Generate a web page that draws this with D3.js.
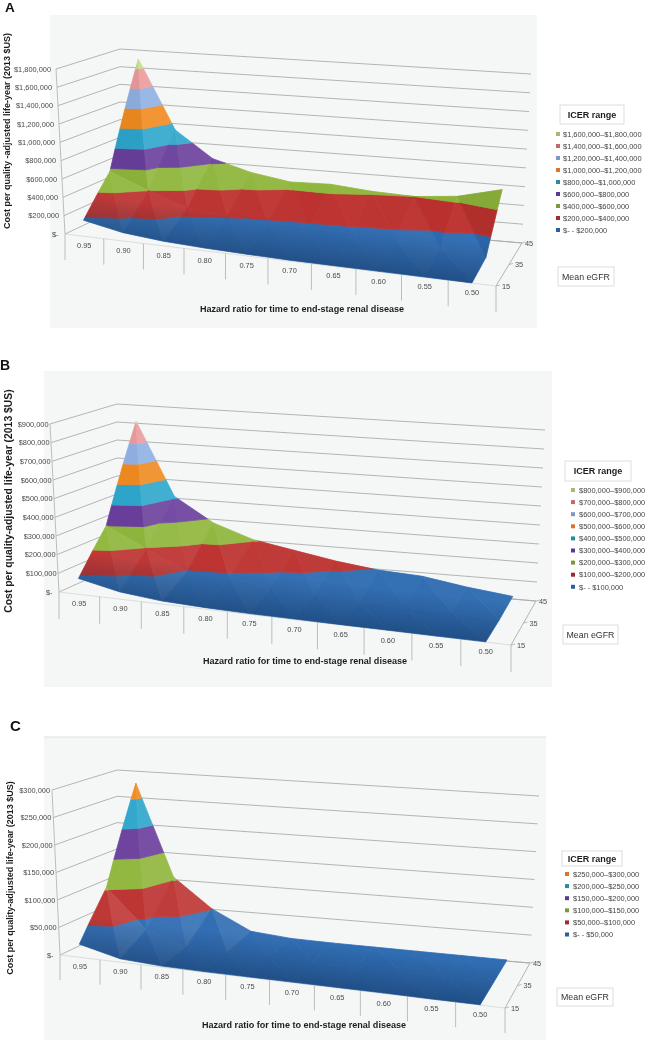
<!DOCTYPE html>
<html><head><meta charset="utf-8">
<script src="https://cdn.jsdelivr.net/npm/d3@7"></script>
<style>
html,body{margin:0;padding:0;background:#fff}
svg{display:block;filter:blur(.3px)}
text{font-family:"Liberation Sans",Arial,sans-serif}
</style></head><body>
<svg id="chart" width="645" height="1040"></svg>
<script>
// ---- data ----
const hazardRatios = ["0.95","0.90","0.85","0.80","0.75","0.70","0.65","0.60","0.55","0.50"];
const eGFRLevels = ["15","35","45"];

const ticksA = [0,200000,400000,600000,800000,1000000,1200000,1400000,1600000,1800000];
const valuesA15 = [175000,90000,50000,30000,18000,10000,8000,6000,4000,2000];
const valuesA35 = [570000,400000,250000,210000,185000,170000,160000,145000,100000,50000];
const valuesA45 = [1700000,930000,640000,520000,450000,460000,420000,400000,440000,550000];
const legendA = ["$1,600,000–$1,800,000","$1,400,000–$1,600,000","$1,200,000–$1,400,000","$1,000,000–$1,200,000","$800,000–$1,000,000","$600,000–$800,000","$400,000–$600,000","$200,000–$400,000","$- - $200,000"];

const ticksB = [0,100000,200000,300000,400000,500000,600000,700000,800000,900000];
const valuesB15 = [85000,38000,16000,8000,4000,3000,2000,2000,1000,1000];
const valuesB35 = [300000,195000,95000,84000,55000,38000,25000,20000,15000,3000];
const valuesB45 = [810000,410000,280000,205000,165000,125000,95000,81000,43000,14000];
const legendB = ["$800,000–$900,000","$700,000–$800,000","$600,000–$700,000","$500,000–$600,000","$400,000–$500,000","$300,000–$400,000","$200,000–$300,000","$100,000–$200,000","$- - $100,000"];

const ticksC = [0,50000,100000,150000,200000,250000,300000];
const valuesC15 = [24000,6000,2000,1000,1000,1000,1000,1000,500,500];
const valuesC35 = [104000,33000,9000,7000,5000,4000,3000,3000,2000,1000];
const valuesC45 = [277000,105000,51000,15000,8000,6000,5000,4000,3000,2000];
const legendC = ["$250,000–$300,000","$200,000–$250,000","$150,000–$200,000","$100,000–$150,000","$50,000–$100,000","$- - $50,000"];

// band colours, lowest band first
const surfaceColors = ["#2f6cb2","#bc312f","#8fb63c","#6a3f9c","#2ea6cb","#f08a20","#8fb0e2","#ea9a9c","#c6dc8c"];
const legendColors  = ["#2c5f9e","#9e2b2d","#7a9a3c","#5a3a8c","#2b8a9e","#d9752c","#7f96c4","#c2686c","#a6b87c"];

// ---- panel layout (not data) ----
const panels = [
 {letter:"A",lx:5,ly:11.5,lfs:13.5,bg:[50,15,487,313],labOff:5,
  FL:[65,234],FLt:[56,69],BL:[120,208],BLt:[120,49],BR:[522,243],BRt:[531,74],FR:[496,286],FRv:[8,-176],
  tickH:26,ticks:ticksA,rows:[valuesA15,valuesA35,valuesA45],legend:legendA,bands:9,
  yTitle:"Cost per quality -adjusted life-year (2013 $US)",ytx:10,yty:131,yfs:9,
  xty:312,xtx:302,
  lg:{box:[560,105,64,19],mx:556,my:134,step:12,tx:563},mean:[558,267,56,19]},
 {letter:"B",lx:0,ly:370,lfs:14,bg:[44,371,508,316],labOff:1.5,
  FL:[59,592],FLt:[50,424],BL:[117,566],BLt:[117,404],BR:[536,601],BRt:[545,430],FR:[511,645],FRv:[8,-180],
  tickH:27,ticks:ticksB,rows:[valuesB15,valuesB35,valuesB45],legend:legendB,bands:9,
  yTitle:"Cost per quality-adjusted life-year (2013 $US)",ytx:12,yty:501,yfs:10.4,
  xty:664,xtx:305,
  lg:{box:[565,461,66,20],mx:571,my:490,step:12.1,tx:579},mean:[563,625,55,19]},
 {letter:"C",lx:10,ly:731,lfs:15,bg:[44,737,502,303],topLine:true,labOff:2,
  FL:[60,955],FLt:[52,790],BL:[117,928],BLt:[117,770],BR:[530,963],BRt:[539,796],FR:[505,1008],FRv:[8,-175],
  tickH:25,ticks:ticksC,rows:[valuesC15,valuesC35,valuesC45],legend:legendC,bands:6,
  yTitle:"Cost per quality-adjusted life-year (2013 $US)",ytx:13,yty:878,yfs:9,
  xty:1028,xtx:304,
  lg:{box:[562,851,60,15],mx:565,my:874,step:12.1,tx:573},mean:[557,988,56,18]}
];

const svg = d3.select("#chart");
const defs = svg.append("defs");
const lerp = (a,b,t)=>[a[0]+(b[0]-a[0])*t,a[1]+(b[1]-a[1])*t];
const pathOf = pts => "M"+pts.map(p=>p[0].toFixed(2)+","+p[1].toFixed(2)).join("L")+"Z";

// clip a polygon (vertices {u,d,v}) to lo <= v <= hi
function clipBand(poly,lo,hi){
  const clip=(pts,keep,lim)=>{
    const out=[];
    pts.forEach((a,i)=>{
      const b=pts[(i+1)%pts.length];
      const ka=keep(a.v),kb=keep(b.v);
      if(ka) out.push(a);
      if(ka!==kb){
        const t=(lim-a.v)/(b.v-a.v);
        out.push({u:a.u+(b.u-a.u)*t,d:a.d+(b.d-a.d)*t,v:lim});
      }
    });
    return out;
  };
  let r=clip(poly,v=>v>=lo,lo);
  if(r.length) r=clip(r,v=>v<=hi,hi);
  return r;
}

panels.forEach((P,pi)=>{
  const g = svg.append("g");
  const maxV = d3.max(P.ticks);
  // scales
  const xBand = d3.scaleBand().domain(hazardRatios).range([0,1]);
  const persp = .89;
  const warp = u => persp*u/(1-(1-persp)*u);
  const depth = d3.scalePoint().domain(eGFRLevels).range([0,1]);
  const valueScale = d3.scaleLinear().domain([0,maxV]).range([0,1]);
  const vecFL=[P.FLt[0]-P.FL[0],P.FLt[1]-P.FL[1]];
  const vecBL=[P.BLt[0]-P.BL[0],P.BLt[1]-P.BL[1]];
  const vecBR=[P.BRt[0]-P.BR[0],P.BRt[1]-P.BR[1]];
  const project=(u,d,v)=>{
    const w=warp(u);
    const floor=lerp(lerp(P.FL,P.FR,w),lerp(P.BL,P.BR,w),d);
    const up=lerp(lerp(vecFL,P.FRv,w),lerp(vecBL,vecBR,w),d);
    const h=valueScale(v);
    return [floor[0]+up[0]*h,floor[1]+up[1]*h];
  };

  // background
  g.append("rect").attr("x",P.bg[0]).attr("y",P.bg[1]).attr("width",P.bg[2]).attr("height",P.bg[3]).attr("fill","#f5f7f7");
  if(P.topLine) g.append("line").attr("x1",P.bg[0]).attr("x2",P.bg[0]+P.bg[2]).attr("y1",P.bg[1]).attr("y2",P.bg[1]).attr("stroke","#dfe2e2");

  // wall gridlines
  const wall=d3.line();
  g.append("g").selectAll("path").data(P.ticks).join("path")
    .attr("d",t=>wall([project(0,0,t),project(0,1,t),project(1,1,t)]))
    .attr("fill","none").attr("stroke","#ababab").attr("stroke-width",.9);
  // value axis + front edge + depth edge
  g.append("path").attr("d",wall([project(0,0,maxV),project(0,0,0)])).attr("fill","none").attr("stroke","#b5b5b5").attr("stroke-width",.9);
  g.append("path").attr("d",wall([project(0,1,0),project(1,1,0),project(1,0,0)])).attr("fill","none").attr("stroke","#ababab").attr("stroke-width",.9);
  g.append("path").attr("d",wall([project(0,0,0),project(1,0,0)])).attr("fill","none").attr("stroke","#d0d0d0").attr("stroke-width",.7);

  // ticks under the front edge
  const edges=hazardRatios.map(h=>xBand(h)).concat([1]);
  g.append("g").selectAll("line").data(edges).join("line")
    .attr("x1",u=>project(u,0,0)[0]).attr("x2",u=>project(u,0,0)[0])
    .attr("y1",u=>project(u,0,0)[1]).attr("y2",u=>project(u,0,0)[1]+P.tickH)
    .attr("stroke","#b5b5b5").attr("stroke-width",.9);

  // tick labels
  g.append("g").selectAll("text").data(P.ticks).join("text")
    .attr("x",t=>project(0,0,t)[0]-(t===0?6.5:P.labOff)).attr("y",t=>project(0,0,t)[1]+2.7)
    .attr("text-anchor","end").attr("font-size",7.4).attr("fill","#4a4a4a")
    .text(t=>t===0?"$-":d3.format("$,")(t));
  g.append("g").selectAll("text").data(hazardRatios).join("text")
    .attr("x",h=>project(xBand(h)+xBand.bandwidth()/2,0,0)[0])
    .attr("y",h=>project(xBand(h)+xBand.bandwidth()/2,0,0)[1]+12)
    .attr("text-anchor","middle").attr("font-size",7.4).attr("fill","#4a4a4a").text(h=>h);
  g.append("g").selectAll("text").data(eGFRLevels).join("text")
    .attr("x",e=>project(1,depth(e),0)[0]+ (e==="45"?3:6))
    .attr("y",e=>project(1,depth(e),0)[1]+2.7)
    .attr("font-size",7.4).attr("fill","#4a4a4a").text(e=>e);
  g.append("g").selectAll("line").data(eGFRLevels).join("line")
    .attr("x1",e=>project(1,depth(e),0)[0]).attr("x2",e=>project(1,depth(e),0)[0]+4)
    .attr("y1",e=>project(1,depth(e),0)[1]).attr("y2",e=>project(1,depth(e),0)[1]-1)
    .attr("stroke","#ababab").attr("stroke-width",.8);

  // surface: triangles split along colour bands, back row first
  const uOf=i=>xBand(hazardRatios[i])+xBand.bandwidth()/2;
  const rows=P.rows;
  const vert=(r,i)=>({u:uOf(i),d:depth(eGFRLevels[r]),v:rows[r][i]});
  const tris=[];
  for(let r=rows.length-2;r>=0;r--){
    for(let i=0;i<hazardRatios.length-1;i++){
      tris.push([vert(r,i),vert(r+1,i),vert(r,i+1)]);
      tris.push([vert(r+1,i),vert(r+1,i+1),vert(r,i+1)]);
    }
  }
  const bandW=maxV/(P.ticks.length-1);
  const polys=[];
  tris.forEach(t=>{
    // lighting from the triangle's slope
    const P3=t.map(q=>[q.u*10,q.d*2.6,valueScale(q.v)*3.5]);
    const a=[P3[1][0]-P3[0][0],P3[1][1]-P3[0][1],P3[1][2]-P3[0][2]];
    const b=[P3[2][0]-P3[0][0],P3[2][1]-P3[0][1],P3[2][2]-P3[0][2]];
    let n=[a[1]*b[2]-a[2]*b[1],a[2]*b[0]-a[0]*b[2],a[0]*b[1]-a[1]*b[0]];
    if(n[2]<0) n=n.map(x=>-x);
    const len=Math.hypot(...n);n=n.map(x=>x/len);
    const L=[.66,-.2,.72];
    const lit=n[0]*L[0]+n[1]*L[1]+n[2]*L[2];
    d3.range(P.ticks.length-1).forEach(k=>{
      const lo=k*bandW,hi=(k+1)*bandW;
      const poly=clipBand(t,lo,hi);
      if(poly.length>=3) polys.push({pts:poly.map(q=>project(q.u,q.d,q.v)),k,lit});
    });
  });
  const shade=(c,lit)=>{
    const f=lit-.72;
    const base=d3.rgb(c);
    return f>=0? d3.interpolateRgb(base,"#ffffff")(Math.min(.22,f*.42))
               : d3.interpolateRgb(base,"#000000")(Math.min(.3,-f*.45));
  };
  g.append("g").selectAll("path").data(polys).join("path")
    .attr("d",d=>pathOf(d.pts))
    .attr("fill",d=>shade(surfaceColors[d.k],d.lit))
    .attr("stroke",d=>shade(surfaceColors[d.k],d.lit)).attr("stroke-width",.8).attr("stroke-linejoin","round");

  // dark falloff toward the front edge
  const fA=project(uOf(0),0,0),fB=project(uOf(9),0,0);
  const el=Math.hypot(fB[0]-fA[0],fB[1]-fA[1]);
  const nx=(fB[1]-fA[1])/el,ny=-(fB[0]-fA[0])/el;
  const gid="front"+pi;
  const lg=defs.append("linearGradient").attr("id",gid).attr("gradientUnits","userSpaceOnUse")
    .attr("x1",fA[0]).attr("y1",fA[1]).attr("x2",fA[0]+nx*42).attr("y2",fA[1]+ny*42);
  lg.append("stop").attr("offset",0).attr("stop-color","#061a38").attr("stop-opacity",.36);
  lg.append("stop").attr("offset",1).attr("stop-color","#061a38").attr("stop-opacity",0);
  const outline=[...d3.range(10).map(i=>project(uOf(i),0,rows[0][i])),
                 project(uOf(9),.5,rows[1][9]),
                 ...d3.range(9,-1,-1).map(i=>project(uOf(i),1,rows[2][i])),
                 project(uOf(0),.5,rows[1][0])];
  g.append("path").attr("d",pathOf(outline)).attr("fill",`url(#${gid})`);

  // titles
  g.append("text").attr("x",P.lx).attr("y",P.ly).attr("font-size",P.lfs).attr("font-weight","bold").attr("fill","#111").text(P.letter);
  g.append("text").attr("transform",`translate(${P.ytx},${P.yty}) rotate(-90)`).attr("text-anchor","middle")
    .attr("font-size",P.yfs).attr("font-weight","bold").attr("fill","#1c1c1c").text(P.yTitle);
  g.append("text").attr("x",P.xtx).attr("y",P.xty).attr("text-anchor","middle")
    .attr("font-size",9.05).attr("font-weight","bold").attr("fill","#1c1c1c").text("Hazard ratio for time to end-stage renal disease");

  // legend
  const L=P.lg;
  g.append("rect").attr("x",L.box[0]).attr("y",L.box[1]).attr("width",L.box[2]).attr("height",L.box[3]).attr("fill","#fff").attr("stroke","#d4d4d4").attr("stroke-width",.8);
  g.append("text").attr("x",L.box[0]+L.box[2]/2).attr("y",L.box[1]+L.box[3]/2+3).attr("text-anchor","middle")
    .attr("font-size",9).attr("font-weight","bold").attr("fill","#1c1c1c").text("ICER range");
  const lc=d3.range(P.bands).map(i=>legendColors[P.bands-1-i]);
  const row=g.append("g").selectAll("g").data(P.legend).join("g");
  row.append("rect").attr("x",L.mx).attr("y",(d,i)=>L.my+i*L.step-2).attr("width",4).attr("height",4).attr("fill",(d,i)=>lc[i]);
  row.append("text").attr("x",L.tx).attr("y",(d,i)=>L.my+i*L.step+2.7).attr("font-size",7.45).attr("fill","#444").text(d=>d);
  g.append("rect").attr("x",P.mean[0]).attr("y",P.mean[1]).attr("width",P.mean[2]).attr("height",P.mean[3]).attr("fill","#fff").attr("stroke","#d4d4d4").attr("stroke-width",.8);
  g.append("text").attr("x",P.mean[0]+P.mean[2]/2).attr("y",P.mean[1]+P.mean[3]/2+3).attr("text-anchor","middle").attr("font-size",8.8).attr("fill","#333").text("Mean eGFR");
});
</script></body></html>
